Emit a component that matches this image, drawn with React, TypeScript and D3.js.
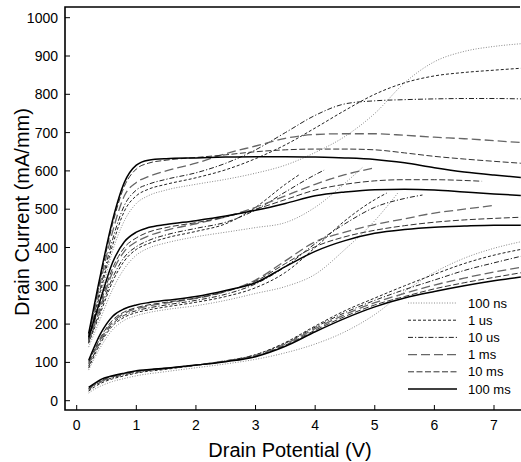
import React from 'react';
import * as d3 from 'd3';

// pulse widths (legend order)
const pulses = ['100 ns', '1 us', '10 us', '1 ms', '10 ms', '100 ms'];

const xTicks = [0, 1, 2, 3, 4, 5, 6, 7];
const yTicks = [0, 100, 200, 300, 400, 500, 600, 700, 800, 900, 1000];

// [Vd, Id] pairs, one array per pulse width and gate step (top gate step first)
const top100ns = [[0.2,150],[0.4,270],[0.6,390],[0.8,470],[1,515],[1.2,535],[1.5,550],[2,565],[2.5,578],[3,594],[3.5,615],[4,648],[4.5,690],[5,750],[5.5,830],[6,885],[6.5,912],[7,925],[7.45,932]];
const top1us = [[0.2,155],[0.4,285],[0.6,405],[0.8,495],[1,535],[1.2,552],[1.5,565],[2,582],[2.5,603],[3,632],[3.5,668],[4,712],[4.5,758],[5,800],[5.5,830],[6,848],[6.5,857],[7,863],[7.45,868]];
const top10us = [[0.2,160],[0.4,295],[0.6,420],[0.8,510],[1,550],[1.2,565],[1.5,578],[2,595],[2.5,620],[3,655],[3.5,700],[4,745],[4.5,775],[5,783],[5.5,786],[6,788],[6.5,789],[7,789],[7.45,788]];
const top1ms = [[0.2,165],[0.4,310],[0.6,440],[0.8,535],[1,570],[1.2,585],[1.5,600],[2,620],[2.5,645],[3,665],[3.5,685],[4,695],[4.5,697],[5,697],[5.5,693],[6,688],[6.5,684],[7,679],[7.45,674]];
const top10ms = [[0.2,170],[0.4,320],[0.6,460],[0.8,560],[1,605],[1.2,620],[1.5,628],[2,635],[2.5,642],[3,650],[3.5,655],[4,657],[4.5,657],[5,655],[5.5,647],[6,638],[6.5,631],[7,625],[7.45,620]];
const top100ms = [[0.2,175],[0.4,330],[0.6,470],[0.8,570],[1,615],[1.2,628],[1.5,632],[2,634],[2.5,636],[3,637],[3.5,637],[4,636],[4.5,634],[5,630],[5.5,621],[6,608],[6.5,597],[7,589],[7.45,583]];

const mid100ns = [[0.2,140],[0.4,215],[0.6,290],[0.8,345],[1,380],[1.2,398],[1.5,412],[2,428],[2.5,440],[3,452],[3.5,465],[4,505],[4.5,568],[4.8,610]];
const mid1us = [[0.2,150],[0.4,230],[0.6,310],[0.8,365],[1,395],[1.2,410],[1.5,425],[2,442],[2.5,462],[3,505],[3.5,565],[3.75,592]];
const mid10us = [[0.2,152],[0.4,238],[0.6,320],[0.8,375],[1,402],[1.2,418],[1.5,433],[2,450],[2.5,466],[3,498],[3.5,545],[4,590],[4.15,602]];
const mid1ms = [[0.2,155],[0.4,245],[0.6,335],[0.8,390],[1,415],[1.2,430],[1.5,445],[2,462],[2.5,480],[3,505],[3.5,535],[4,565],[4.5,590],[5,608]];
const mid10ms = [[0.2,160],[0.4,255],[0.6,345],[0.8,400],[1,425],[1.2,440],[1.5,452],[2,465],[2.5,480],[3,500],[3.5,525],[4,550],[4.5,565],[5,574],[5.5,577],[6,577],[6.5,575],[6.8,573]];
const mid100ms = [[0.2,165],[0.4,265],[0.6,360],[0.8,415],[1,440],[1.2,452],[1.5,460],[2,470],[2.5,482],[3,497],[3.5,515],[4,535],[4.5,545],[5,551],[5.5,552],[6,550],[6.5,545],[7,540],[7.45,536]];

const low100ns = [[0.2,80],[0.4,140],[0.6,185],[0.8,210],[1,222],[1.2,230],[1.5,238],[2,248],[2.5,262],[3,280],[3.5,298],[4,330],[4.5,395],[5,470],[5.4,545]];
const low1us = [[0.2,85],[0.4,150],[0.6,195],[0.8,218],[1,230],[1.2,237],[1.5,245],[2,257],[2.5,272],[3,295],[3.5,335],[4,400],[4.5,470],[5,525],[5.2,542]];
const low10us = [[0.2,90],[0.4,155],[0.6,200],[0.8,223],[1,235],[1.2,242],[1.5,250],[2,262],[2.5,278],[3,305],[3.5,350],[4,410],[4.5,462],[5,505],[5.5,528],[5.8,537]];
const low1ms = [[0.2,95],[0.4,160],[0.6,205],[0.8,228],[1,240],[1.2,247],[1.5,255],[2,267],[2.5,285],[3,315],[3.5,365],[4,415],[4.5,440],[5,460],[5.5,475],[6,490],[6.5,500],[7,510]];
const low10ms = [[0.2,100],[0.4,165],[0.6,210],[0.8,232],[1,243],[1.2,250],[1.5,257],[2,268],[2.5,285],[3,312],[3.5,358],[4,402],[4.5,428],[5,445],[5.5,457],[6,466],[6.5,472],[7,476],[7.45,479]];
const low100ms = [[0.2,105],[0.4,175],[0.6,220],[0.8,240],[1,250],[1.2,256],[1.5,262],[2,272],[2.5,288],[3,308],[3.5,350],[4,390],[4.5,418],[5,437],[5.5,447],[6,453],[6.5,456],[7,458],[7.45,458]];

const base100ns = [[0.2,20],[0.3,30],[0.4,38],[0.6,50],[0.8,58],[1,65],[1.5,76],[2,86],[2.5,96],[3,108],[3.5,125],[4,148],[4.5,180],[5,225],[5.5,285],[6,335],[6.5,372],[7,398],[7.45,415]];
const base1us = [[0.2,25],[0.3,36],[0.4,45],[0.6,57],[0.8,65],[1,72],[1.5,82],[2,92],[2.5,103],[3,120],[3.5,152],[4,195],[4.5,235],[5,268],[5.5,300],[6,330],[6.5,358],[7,380],[7.45,395]];
const base10us = [[0.2,28],[0.3,40],[0.4,48],[0.6,60],[0.8,68],[1,74],[1.5,84],[2,93],[2.5,104],[3,120],[3.5,150],[4,192],[4.5,230],[5,262],[5.5,290],[6,315],[6.5,340],[7,360],[7.45,377]];
const base1ms = [[0.2,30],[0.3,42],[0.4,50],[0.6,62],[0.8,70],[1,76],[1.5,85],[2,93],[2.5,104],[3,118],[3.5,148],[4,188],[4.5,225],[5,256],[5.5,280],[6,302],[6.5,320],[7,336],[7.45,348]];
const base10ms = [[0.2,32],[0.3,44],[0.4,52],[0.6,64],[0.8,71],[1,77],[1.5,85],[2,93],[2.5,103],[3,116],[3.5,145],[4,184],[4.5,220],[5,250],[5.5,272],[6,292],[6.5,308],[7,322],[7.45,334]];
const base100ms = [[0.2,35],[0.3,45],[0.4,55],[0.6,65],[0.8,72],[1,78],[1.5,85],[2,93],[2.5,102],[3,115],[3.5,142],[4,180],[4.5,215],[5,245],[5.5,268],[6,285],[6.5,300],[7,313],[7.45,323]];

const series = [
  [top100ns, mid100ns, low100ns, base100ns],
  [top1us, mid1us, low1us, base1us],
  [top10us, mid10us, low10us, base10us],
  [top1ms, mid1ms, low1ms, base1ms],
  [top10ms, mid10ms, low10ms, base10ms],
  [top100ms, mid100ms, low100ms, base100ms],
];

const styles = [
  { stroke: '#8a8a8a', dash: '1,1.6', width: 1 },
  { stroke: '#222', dash: '3,2', width: 1 },
  { stroke: '#222', dash: '5,2,1.2,2', width: 1 },
  { stroke: '#666', dash: '9,4', width: 1.3 },
  { stroke: '#333', dash: '6,2.5', width: 1 },
  { stroke: '#000', dash: null, width: 1.5 },
];

const W = 521;
const H = 462;
const left = 65, right = 521, topY = 7, bottom = 410;

export default function App() {
  const x = d3.scaleLinear().domain([0, 7]).range([76.7, 494]);
  const y = d3.scaleLinear().domain([0, 1000]).range([400.7, 17.7]);
  const line = d3.line<number[]>()
    .x(d => x(d[0]))
    .y(d => y(d[1]))
    .curve(d3.curveMonotoneX);

  const font = 'Liberation Sans, Arial, Helvetica, sans-serif';

  return (
    <svg width={W} height={H} style={{ position: 'absolute', left: 0, top: 0 }} fontFamily={font}>
      <rect width={W} height={H} fill='#fff' />
      <defs>
        <clipPath id='plot'>
          <rect x={left} y={topY} width={right - left} height={bottom - topY} />
        </clipPath>
      </defs>

      <g clipPath='url(#plot)'>
        {series.map((fams, i) => fams.map((pts, j) => (
          <path key={i + '-' + j} d={line(pts) || ''} fill='none'
            stroke={styles[i].stroke} strokeWidth={styles[i].width}
            strokeDasharray={styles[i].dash || undefined} />
        )))}
      </g>

      {/* frame */}
      <path d={`M${right - 1},${topY}H${left}V${bottom}H${right}`} fill='none' stroke='#000' strokeWidth={1.6} />

      {yTicks.map(t => (
        <g key={'y' + t}>
          <line x1={left} x2={left + 5} y1={y(t)} y2={y(t)} stroke='#000' strokeWidth={1} />
          <text x={58} y={y(t) + 5} textAnchor='end' fontSize={14}>{t}</text>
        </g>
      ))}
      {xTicks.map(t => (
        <g key={'x' + t}>
          <line x1={x(t)} x2={x(t)} y1={bottom} y2={bottom - 5} stroke='#000' strokeWidth={1} />
          <text x={x(t)} y={430} textAnchor='middle' fontSize={14}>{t}</text>
        </g>
      ))}

      <text x={290} y={457} textAnchor='middle' fontSize={20}>Drain Potential (V)</text>
      <text transform='translate(29,212) rotate(-90)' textAnchor='middle' fontSize={20}>Drain Current (mA/mm)</text>

      {/* legend */}
      {pulses.map((p, i) => {
        const ly = 303 + i * 17.2;
        return (
          <g key={p}>
            <line x1={408} x2={457} y1={ly} y2={ly} stroke={styles[i].stroke}
              strokeWidth={styles[i].width} strokeDasharray={styles[i].dash || undefined} />
            <text x={468} y={ly + 4.5} fontSize={13}>{p}</text>
          </g>
        );
      })}
    </svg>
  );
}
